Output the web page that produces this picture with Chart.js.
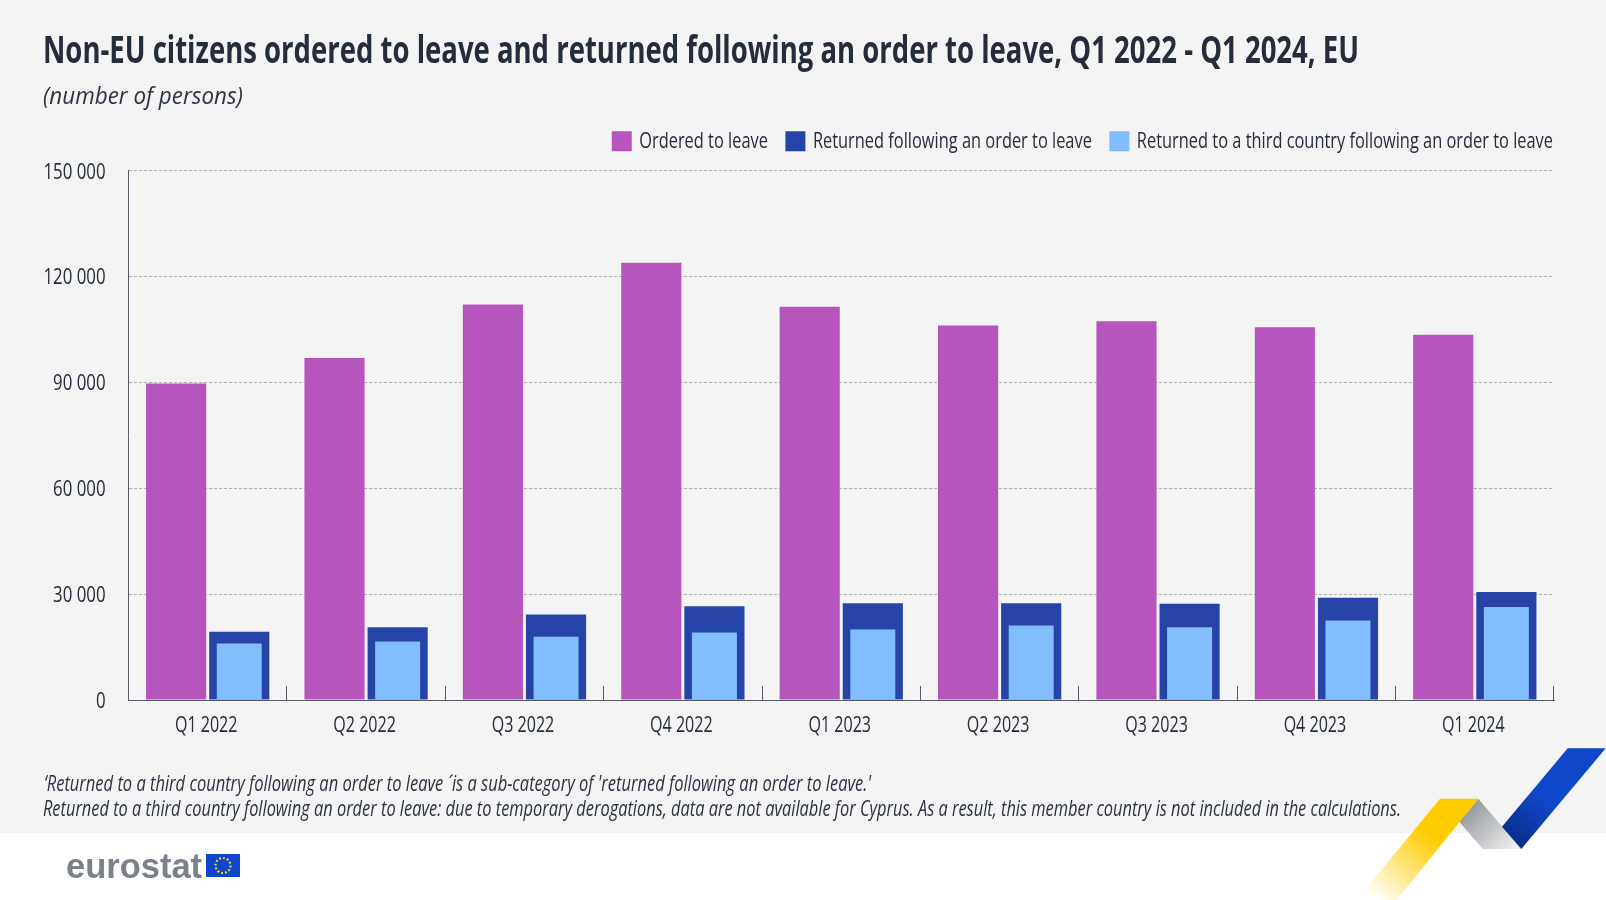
<!DOCTYPE html>
<html><head><meta charset="utf-8">
<script src="https://cdn.jsdelivr.net/npm/chart.js@4"></script>
<style>
html,body{margin:0;padding:0;background:#fff;width:1606px;height:900px;overflow:hidden}
body{position:relative;font-family:"Open Sans",sans-serif;color:#252c3a}
#bg{position:absolute;left:0;top:0;width:1606px;height:833px;background:#f4f4f5}
#c{position:absolute;left:0;top:0}
.t{position:absolute;white-space:nowrap;line-height:1;transform-origin:0 0}
#title{left:43px;top:29px;font-size:38px;font-weight:700}
#sub{left:43px;top:83px;font-size:24px;font-style:italic;color:#2b3240}
#n1{left:44px;top:770.5px;font-size:22px;font-style:italic;color:#2b3240}
#n2{left:43px;top:795.5px;font-size:22px;font-style:italic;color:#2b3240}
#logo{left:66px;top:849px;font-family:"Liberation Sans",sans-serif;font-weight:bold;font-size:34.5px;color:#7b808b}
#deco{position:absolute;left:0;top:0}
</style></head><body>
<div id="bg"></div>
<svg id="deco" width="1606" height="900">
<defs>
<linearGradient id="gy" x1="1459" y1="800" x2="1376" y2="900" gradientUnits="userSpaceOnUse"><stop offset="0" stop-color="#ffcc00"/><stop offset="0.35" stop-color="#ffcc00"/><stop offset="1" stop-color="#ffffff"/></linearGradient>
<linearGradient id="gg" x1="1470" y1="810" x2="1510" y2="850" gradientUnits="userSpaceOnUse"><stop offset="0" stop-color="#9a9da3"/><stop offset="1" stop-color="#eceded"/></linearGradient>
<linearGradient id="gb" x1="1586" y1="748" x2="1510" y2="838" gradientUnits="userSpaceOnUse"><stop offset="0" stop-color="#0f47cb"/><stop offset="0.55" stop-color="#0f47cb"/><stop offset="1" stop-color="#0a2d8a"/></linearGradient>
</defs>
<polygon points="1478.3,798.7 1521.3,849 1482.7,849 1459.3,821.7" fill="url(#gg)"/>
<polygon points="1440,798.7 1478.3,798.7 1396.7,900 1356.7,900" fill="url(#gy)"/>
<polygon points="1567.7,748.3 1605.7,748.3 1521.3,849 1502,826.7" fill="url(#gb)"/>
<rect x="206" y="854" width="34" height="23" fill="#0e47cb"/>
<circle cx="223" cy="865.5" r="7.5" fill="none" stroke="#ffd617" stroke-width="2.2" stroke-dasharray="1.9 2"/>
</svg>
<canvas id="c" width="1606" height="900"></canvas>
<div class="t" id="title" data-w="1316">Non-EU citizens ordered to leave and returned following an order to leave, Q1 2022 - Q1 2024, EU</div>
<div class="t" id="sub" data-w="200">(number of persons)</div>
<div class="t" id="n1" data-w="827">‘Returned to a third country following an order to leave ´ is a sub-category of 'returned following an order to leave.'</div>
<div class="t" id="n2" data-w="1358">Returned to a third country following an order to leave: due to temporary derogations, data are not available for Cyprus. As a result, this member country is not included in the calculations.</div>
<div class="t" id="logo">eurostat</div>
<script>
const categories = ['Q1 2022','Q2 2022','Q3 2022','Q4 2022','Q1 2023','Q2 2023','Q3 2023','Q4 2023','Q1 2024'];
const orderedToLeave = [89700,96950,112150,123950,111500,106200,107400,105650,103550];
const returned = [19350,20600,24250,26600,27450,27400,27300,29000,30600];
const returnedThird = [16050,16600,17950,19150,20000,21150,20650,22550,26350];
const seriesNames = ['Ordered to leave','Returned following an order to leave','Returned to a third country following an order to leave'];
const yMax = 150000, yStep = 30000;
const fontFam = '"Open Sans",sans-serif';
const ink = '#252c3a', axisCol = '#555a66';

document.querySelectorAll('.t[data-w]').forEach(e=>{
  e.style.transform='scaleX('+(+e.dataset.w/e.getBoundingClientRect().width)+')';
});

// Condensed look: narrow every canvas text around its anchor.
const canvas = document.getElementById('c');
const ctx = canvas.getContext('2d');
const origFill = ctx.fillText.bind(ctx), origMeasure = ctx.measureText.bind(ctx);
const squeeze = s => /^[\d ]+$/.test(s) ? 0.765 : /^Q\d/.test(s) ? 0.73 : 0.745;
const nudge = s => /^[\d ]+$/.test(s) ? [0,1.5] : /^Q\d/.test(s) ? [-1.5,0] : seriesNames.includes(s) ? [-3.5,0] : [0,0];
ctx.fillText = function(s,x,y){
  const d = nudge(String(s));
  ctx.save();
  ctx.translate(x+d[0], y+d[1]);
  ctx.scale(squeeze(String(s)),1);
  origFill(s,0,0);
  ctx.restore();
};
ctx.measureText = function(s){
  const m = origMeasure(s);
  return {width:m.width*squeeze(String(s)),actualBoundingBoxAscent:m.actualBoundingBoxAscent,actualBoundingBoxDescent:m.actualBoundingBoxDescent};
};

Chart.defaults.font.family = fontFam;
Chart.defaults.color = ink;
new Chart(ctx, {
  type:'bar',
  data:{labels:categories,datasets:[
    {label:seriesNames[0],data:orderedToLeave,backgroundColor:'#b656bd',stack:'a',barPercentage:0.953,order:0},
    {label:seriesNames[1],data:returned,backgroundColor:'#2644a7',stack:'b',barPercentage:0.953,order:2},
    {label:seriesNames[2],data:returnedThird,backgroundColor:'#82beff',stack:'b',barPercentage:0.7126,order:1}
  ]},
  options:{
    responsive:false,animation:false,
    categoryPercentage:0.797,
    layout:{padding:{left:43,right:52,top:124.9,bottom:0}},
    plugins:{
      tooltip:{enabled:false},
      legend:{position:'top',align:'end',
        labels:{boxWidth:20,boxHeight:20,padding:14,font:{size:22},color:ink,sort:(a,b)=>a.datasetIndex-b.datasetIndex}}
    },
    scales:{
      x:{
        grid:{display:true,drawOnChartArea:false,drawTicks:true,tickLength:-14,color:axisCol,offset:true},
        border:{display:true,color:axisCol,width:1},
        ticks:{font:{size:22},color:ink,padding:27,maxRotation:0,autoSkip:false},
        afterFit(s){s.height=200;}
      },
      y:{
        min:0,max:yMax,stacked:false,
        grid:{display:true,drawTicks:false,color:'#aeb0b4',lineWidth:1},
        border:{display:true,color:axisCol,width:1,dash:[3,2]},
        ticks:{stepSize:yStep,font:{size:22},color:ink,padding:23,
          callback:v=>String(v).replace(/\B(?=(\d{3})+$)/g,' ')},
        afterFit(s){s.width=85.5;}
      }
    }
  },
  plugins:[{id:'legendPlace',beforeDraw(ch){ch.legend.right=1570.5;ch.legend.top=116.3;}}]
});
</script>
</body></html>
